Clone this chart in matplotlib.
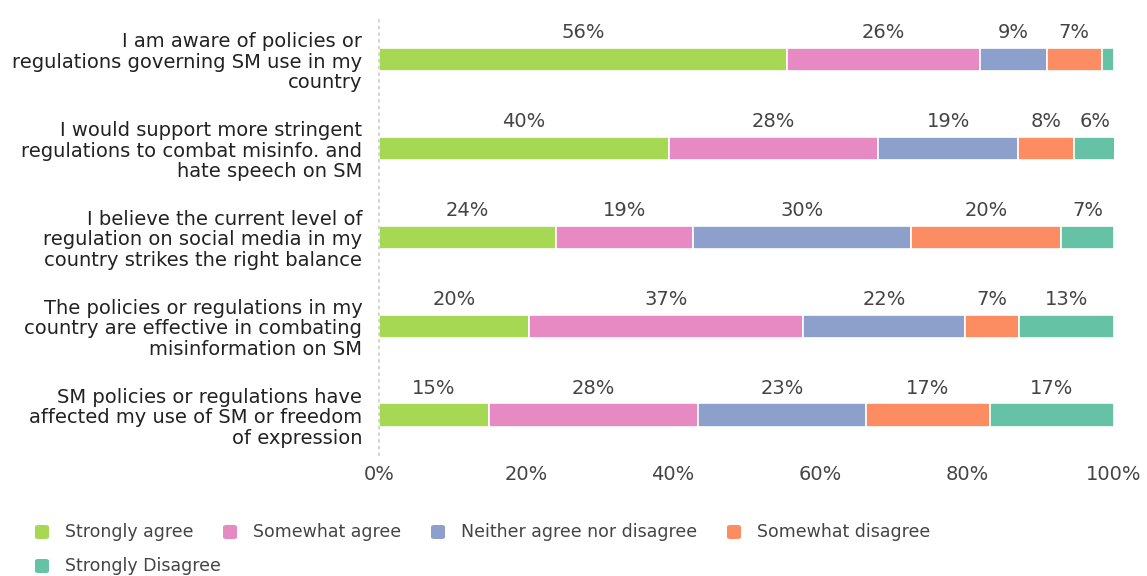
import matplotlib
matplotlib.use("Agg")
import matplotlib.pyplot as plt
from matplotlib.patches import FancyBboxPatch
import numpy as np

plt.rcParams['font.family'] = ['DejaVu Sans']

categories = [
    "I am aware of policies or\nregulations governing SM use in my\ncountry",
    "I would support more stringent\nregulations to combat misinfo. and\nhate speech on SM",
    "I believe the current level of\nregulation on social media in my\ncountry strikes the right balance",
    "The policies or regulations in my\ncountry are effective in combating\nmisinformation on SM",
    "SM policies or regulations have\naffected my use of SM or freedom\nof expression",
]
series_names = ["Strongly agree", "Somewhat agree", "Neither agree nor disagree",
                "Somewhat disagree", "Strongly Disagree"]
strongly_agree = [55.5, 39.5, 24.1, 20.4, 15.0]
somewhat_agree = [26.3, 28.4, 18.6, 37.3, 28.4]
neither = [9.1, 19.1, 29.7, 22.0, 22.9]
somewhat_disagree = [7.4, 7.6, 20.4, 7.4, 16.8]
strongly_disagree = [1.7, 5.6, 7.2, 12.9, 16.9]
colors = ["#a6d854", "#e78ac3", "#8da0cb", "#fc8d62", "#66c2a5"]
xticks = [0, 20, 40, 60, 80, 100]
xtick_labels = ["0%", "20%", "40%", "60%", "80%", "100%"]

series = [strongly_agree, somewhat_agree, neither, somewhat_disagree, strongly_disagree]

W, H = 1147, 576
fig = plt.figure(figsize=(W / 100, H / 100), dpi=100)
ax = fig.add_axes([379 / W, 0.21, (1114 - 379) / W, 0.764])

y = np.arange(len(categories))
left = np.zeros(len(categories))
for vals, col, name in zip(series, colors, series_names):
    vals = np.array(vals)
    ax.barh(y, vals, left=left, height=0.26, color=col, edgecolor="white",
            linewidth=1.2, label=name)
    for yi, (l, v) in enumerate(zip(left, vals)):
        if v >= 3:
            ax.text(l + v / 2, yi - 0.3, f"{int(v + 0.5):d}%", ha="center", va="center",
                    fontsize=14, color="#444444")
    left += vals

ax.set_ylim(4.45, -0.5)
ax.set_xlim(0, 100)
ax.set_yticks(y)
ax.set_yticklabels(categories, fontsize=14, color="#222222", linespacing=1.1)
ax.set_xticks(xticks)
ax.set_xticklabels(xtick_labels, fontsize=14, color="#444444")
ax.tick_params(axis="both", length=0)
ax.tick_params(axis="y", pad=12)
ax.tick_params(axis="x", pad=7)
for s in ["top", "right", "bottom"]:
    ax.spines[s].set_visible(False)
ax.spines["left"].set_linestyle((0, (1, 3)))
ax.spines["left"].set_color("#cccccc")
ax.spines["left"].set_linewidth(1.2)

# legend laid out in rows like the reference (row-major flow)
legend_pos = [(35, 532), (223, 532), (431, 532), (727, 532), (35, 566)]
for (px, py), col, name in zip(legend_pos, colors, series_names):
    sq = FancyBboxPatch((px / W, 1 - (py + 7) / H), 14 / W, 14 / H,
                        boxstyle="round,pad=0,rounding_size=0.003",
                        transform=fig.transFigure, facecolor=col, edgecolor="none")
    fig.add_artist(sq)
    fig.text((px + 30) / W, 1 - py / H, name, fontsize=12.5, color="#444444",
             ha="left", va="center")

fig.savefig("out.png", dpi=100)
